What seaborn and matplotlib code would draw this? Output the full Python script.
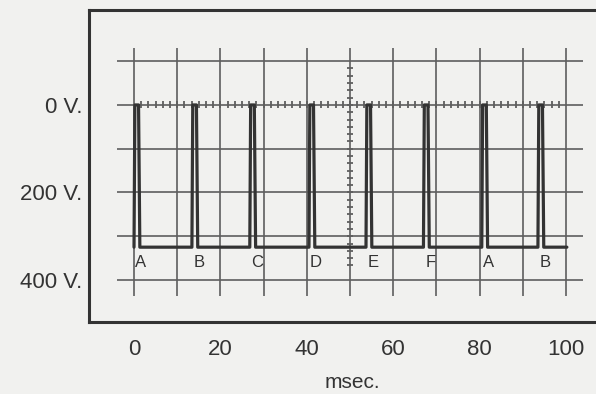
import numpy as np
import pandas as pd
import matplotlib
matplotlib.use("Agg")
import matplotlib.pyplot as plt
import seaborn as sns

# Secondary ignition pattern, firing order A-F repeating
cylinders = ["A", "B", "C", "D", "E", "F", "A", "B"]
firing_ms = [0.0, 13.4, 26.8, 40.5, 53.7, 67.0, 80.5, 93.5]
spike_width_ms = 1.35
baseline_v = 325
peak_v = 0
trace_end_ms = 100.2

x_ticks = [0, 20, 40, 60, 80, 100]
y_ticks = [0, 200, 400]
y_tick_labels = ["0 V.", "200 V.", "400 V."]
x_label = "msec."

paper = "#f1f1ef"
ink = "#333333"
grid_ink = "#5e5e5e"

sns.set_theme(style="white")
plt.rcParams["font.family"] = ["Liberation Sans", "DejaVu Sans"]

# Build the trace: flat baseline with a narrow spike at each firing event
t, v = [], []
for t0 in firing_ms:
    t += [t0, t0 + 0.2, t0 + spike_width_ms - 0.3, t0 + spike_width_ms]
    v += [baseline_v, peak_v, peak_v, baseline_v]
t.append(trace_end_ms)
v.append(baseline_v)
trace = pd.DataFrame({"time": t, "volts": v})

fig = plt.figure(figsize=(5.96, 3.94), dpi=100, facecolor=paper)
ax = fig.add_axes([89 / 596, 72 / 394, 511 / 596, 312 / 394], facecolor=paper)

# Graticule: 10 ms x 100 V divisions
for gx in np.arange(0, 101, 10):
    ax.vlines(gx, -130, 437, color=grid_ink, lw=1.2, zorder=1)
for gy in np.arange(-100, 401, 100):
    ax.hlines(gy, -4, 104, color=grid_ink, lw=1.2, zorder=1)

# Fine graduations on the 0 V line and on the centre vertical
minor = 10 / 6
for mx in np.arange(1, 60) * minor:
    ax.vlines(mx, -8, 8, color=grid_ink, lw=1.3, zorder=1)
for my in np.arange(-5, 23) * (100 / 6):
    ax.hlines(my, 50 - 0.8, 50 + 0.8, color=grid_ink, lw=1.3, zorder=1)

sns.lineplot(data=trace, x="time", y="volts", sort=False, estimator=None,
             color=ink, lw=2.3, ax=ax, zorder=3)

for name, t0 in zip(cylinders, firing_ms):
    ax.text(t0 + 1.6, 359, name, ha="center", va="center",
            fontsize=12, color=ink, zorder=4)

ax.set_xlim(-10.42, 107.87)
ax.set_ylim(496, -217)

ax.set_xticks(x_ticks)
ax.set_yticks(y_ticks)
ax.set_yticklabels(y_tick_labels)
ax.tick_params(axis="both", length=0, labelsize=16, labelcolor=ink)
ax.tick_params(axis="x", pad=12)
ax.tick_params(axis="y", pad=5)

ax.set_xlabel(x_label, fontsize=15, color=ink)
ax.set_ylabel("")
ax.xaxis.set_label_coords((352 - 89) / 511, -0.163)

for side, spine in ax.spines.items():
    spine.set_color(ink)
    spine.set_linewidth(2.2)
    spine.set_visible(True)

fig.savefig("out.png", dpi=100, facecolor=paper)
